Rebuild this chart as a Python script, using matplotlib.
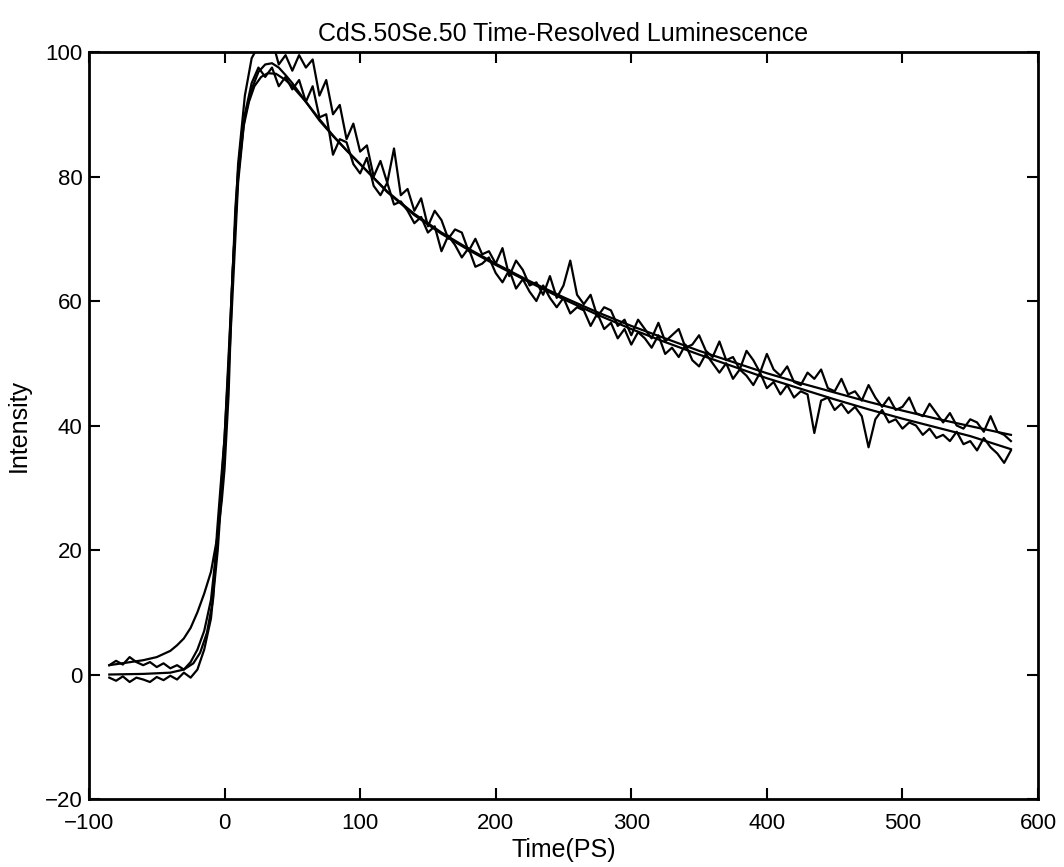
import numpy as np
import matplotlib
matplotlib.use("Agg")
import matplotlib.pyplot as plt

plt.rcParams['font.family'] = ['Liberation Sans', 'DejaVu Sans']

title = "CdS.50Se.50 Time-Resolved Luminescence"
xlabel = "Time(PS)"
ylabel = "Intensity"
xticks = [-100, 0, 100, 200, 300, 400, 500, 600]
yticks = [-20, 0, 20, 40, 60, 80, 100]

# sampled time grid of the measured traces (ps)
t_data = np.arange(-85, 585, 5)

# measured trace 1 (upper)
data1 = [1.5, 2.2, 1.6, 2.8, 2.0, 1.5, 2.0, 1.2, 1.8, 1.0, 1.5, 0.8, 2.0, 4.0,
         7.0, 12.0, 22.0, 38.0, 60.0, 82.0, 93.0, 99.0, 101.0, 100.5, 102.0, 98.0, 99.5,
         97.0, 99.5, 97.5, 98.8, 93.0, 95.5, 90.0, 91.5, 86.0, 88.5,
         84.0, 85.0, 80.0, 82.5, 79.0, 84.5, 77.0, 78.0, 74.5, 76.5,
         72.0, 74.5, 73.0, 70.0, 71.5, 71.0, 68.0, 70.0, 67.5, 68.0,
         66.0, 68.5, 64.0, 66.5, 65.0, 62.5, 63.0, 61.0, 64.0, 60.5,
         62.5, 66.5, 61.0, 59.5, 61.0, 57.5, 59.0, 58.5, 56.0, 57.0,
         54.5, 57.0, 55.5, 54.0, 56.5, 53.5, 54.5, 55.5, 52.5, 53.0,
         54.5, 52.0, 51.0, 53.5, 50.5, 51.0, 49.0, 52.0, 50.5, 48.5,
         51.5, 49.0, 48.0, 49.5, 47.0, 46.5, 48.5, 47.5, 49.0, 46.0,
         45.5, 47.5, 45.0, 45.5, 44.0, 46.5, 44.5, 43.0, 44.5, 42.5,
         43.0, 44.5, 42.0, 41.5, 43.5, 42.0, 40.5, 42.0, 40.0, 39.5,
         41.0, 40.5, 39.0, 41.5, 39.0, 38.5, 37.5]

# measured trace 2 (lower)
data2 = [-0.5, -1.0, -0.3, -1.2, -0.5, -0.8, -1.2, -0.4, -0.9, -0.2, -0.8, 0.3, -0.5, 0.8,
         4.0, 9.0, 20.0, 36.0, 57.0, 79.0, 90.0, 95.0, 97.5, 96.0, 97.5, 94.5, 96.0,
         94.0, 95.5, 92.0, 94.5, 89.5, 90.0, 83.5, 86.0, 85.5, 82.0,
         80.5, 83.0, 78.5, 77.0, 79.0, 75.5, 76.0, 74.5, 72.5, 73.5,
         71.0, 72.0, 68.0, 70.5, 69.0, 67.0, 68.5, 65.5, 66.0, 67.0,
         64.5, 63.0, 65.0, 62.0, 63.5, 61.5, 60.0, 62.5, 60.5, 59.0,
         60.5, 58.0, 59.0, 58.5, 56.0, 58.0, 55.5, 56.5, 54.0, 55.5,
         53.0, 55.0, 54.0, 52.5, 54.5, 51.5, 52.5, 51.0, 53.0, 50.5,
         49.5, 51.5, 50.0, 48.5, 50.0, 47.5, 49.0, 48.0, 46.5, 48.5,
         46.0, 47.0, 45.0, 46.5, 44.5, 45.5, 45.0, 38.8, 44.0, 44.5,
         42.5, 43.5, 42.0, 43.0, 41.5, 36.5, 41.0, 42.5, 40.5, 41.0,
         39.5, 40.5, 40.0, 38.5, 39.5, 38.0, 38.5, 37.5, 39.0, 37.0,
         37.5, 36.0, 38.0, 36.5, 35.5, 34.0, 36.0]

# fitted curve A
t_fitA = [-85, -60, -50, -40, -35, -30, -25, -20, -15, -10, -5, -2, 0, 3, 5.5, 8, 10, 13,
          16.5, 20, 25, 30, 35, 40, 45, 50, 60, 70, 80, 90, 100, 120, 140, 160, 180, 200,
          225, 250, 275, 300, 325, 350, 375, 400, 425, 450, 475, 500, 525, 550, 580]
fitA = [1.5, 2.3, 2.8, 3.8, 4.7, 5.8, 7.5, 10.0, 13.0, 16.5, 22.5, 28.0, 33.0, 45.0, 62.0,
        75.0, 81.0, 87.5, 91.0, 94.0, 96.8, 98.0, 98.2, 97.5, 96.3, 95.0, 92.0, 89.0, 86.5,
        84.2, 82.0, 77.6, 74.0, 71.0, 68.4, 66.0, 63.2, 60.6, 58.2, 56.0, 54.0, 52.0, 50.2,
        48.4, 46.8, 45.3, 43.8, 42.4, 41.1, 39.9, 38.5]

# fitted curve B
t_fitB = [-85, -60, -40, -30, -23, -18, -13, -8.5, -5.6, -3, 0, 3, 6, 10, 14, 18, 22, 27,
          32, 38, 45, 50, 60, 70, 80, 90, 100, 120, 140, 160, 180, 200, 225, 250, 275, 300,
          325, 350, 375, 400, 425, 450, 475, 500, 525, 550, 580]
fitB = [0.0, 0.1, 0.3, 0.8, 1.8, 3.5, 6.7, 12.0, 22.7, 30.0, 38.0, 50.0, 65.0, 80.0, 88.0,
        92.0, 94.5, 96.0, 96.6, 96.5, 95.5, 94.5, 92.0, 89.2, 86.6, 84.2, 82.0, 77.5, 73.8,
        70.8, 68.2, 65.8, 63.0, 60.3, 57.8, 55.5, 53.4, 51.4, 49.5, 47.6, 45.9, 44.2, 42.6,
        41.1, 39.7, 38.3, 36.2]

fig = plt.figure(figsize=(10.64, 8.67), dpi=100)
ax = fig.add_axes([0.0836, 0.0784, 0.8920, 0.8616])

lw = 1.6
ax.plot(t_data, data1, color='black', lw=lw)
ax.plot(t_data, data2, color='black', lw=lw)
ax.plot(t_fitA, fitA, color='black', lw=lw)
ax.plot(t_fitB, fitB, color='black', lw=lw)

ax.set_xlim(-100, 600)
ax.set_ylim(-20, 100)
ax.set_xticks(xticks)
ax.set_yticks(yticks)
ax.tick_params(direction='in', length=8, width=1.5, top=True, right=True,
               labelsize=16)
ax.tick_params(axis='x', pad=10)
ax.tick_params(axis='y', pad=4.5)
for s in ax.spines.values():
    s.set_linewidth(2)
ax.set_title(title, fontsize=18, pad=8)
ax.set_xlabel(xlabel, fontsize=18, labelpad=3)
ax.set_ylabel(ylabel, fontsize=18, labelpad=10)

fig.savefig("out.png", dpi=100)
